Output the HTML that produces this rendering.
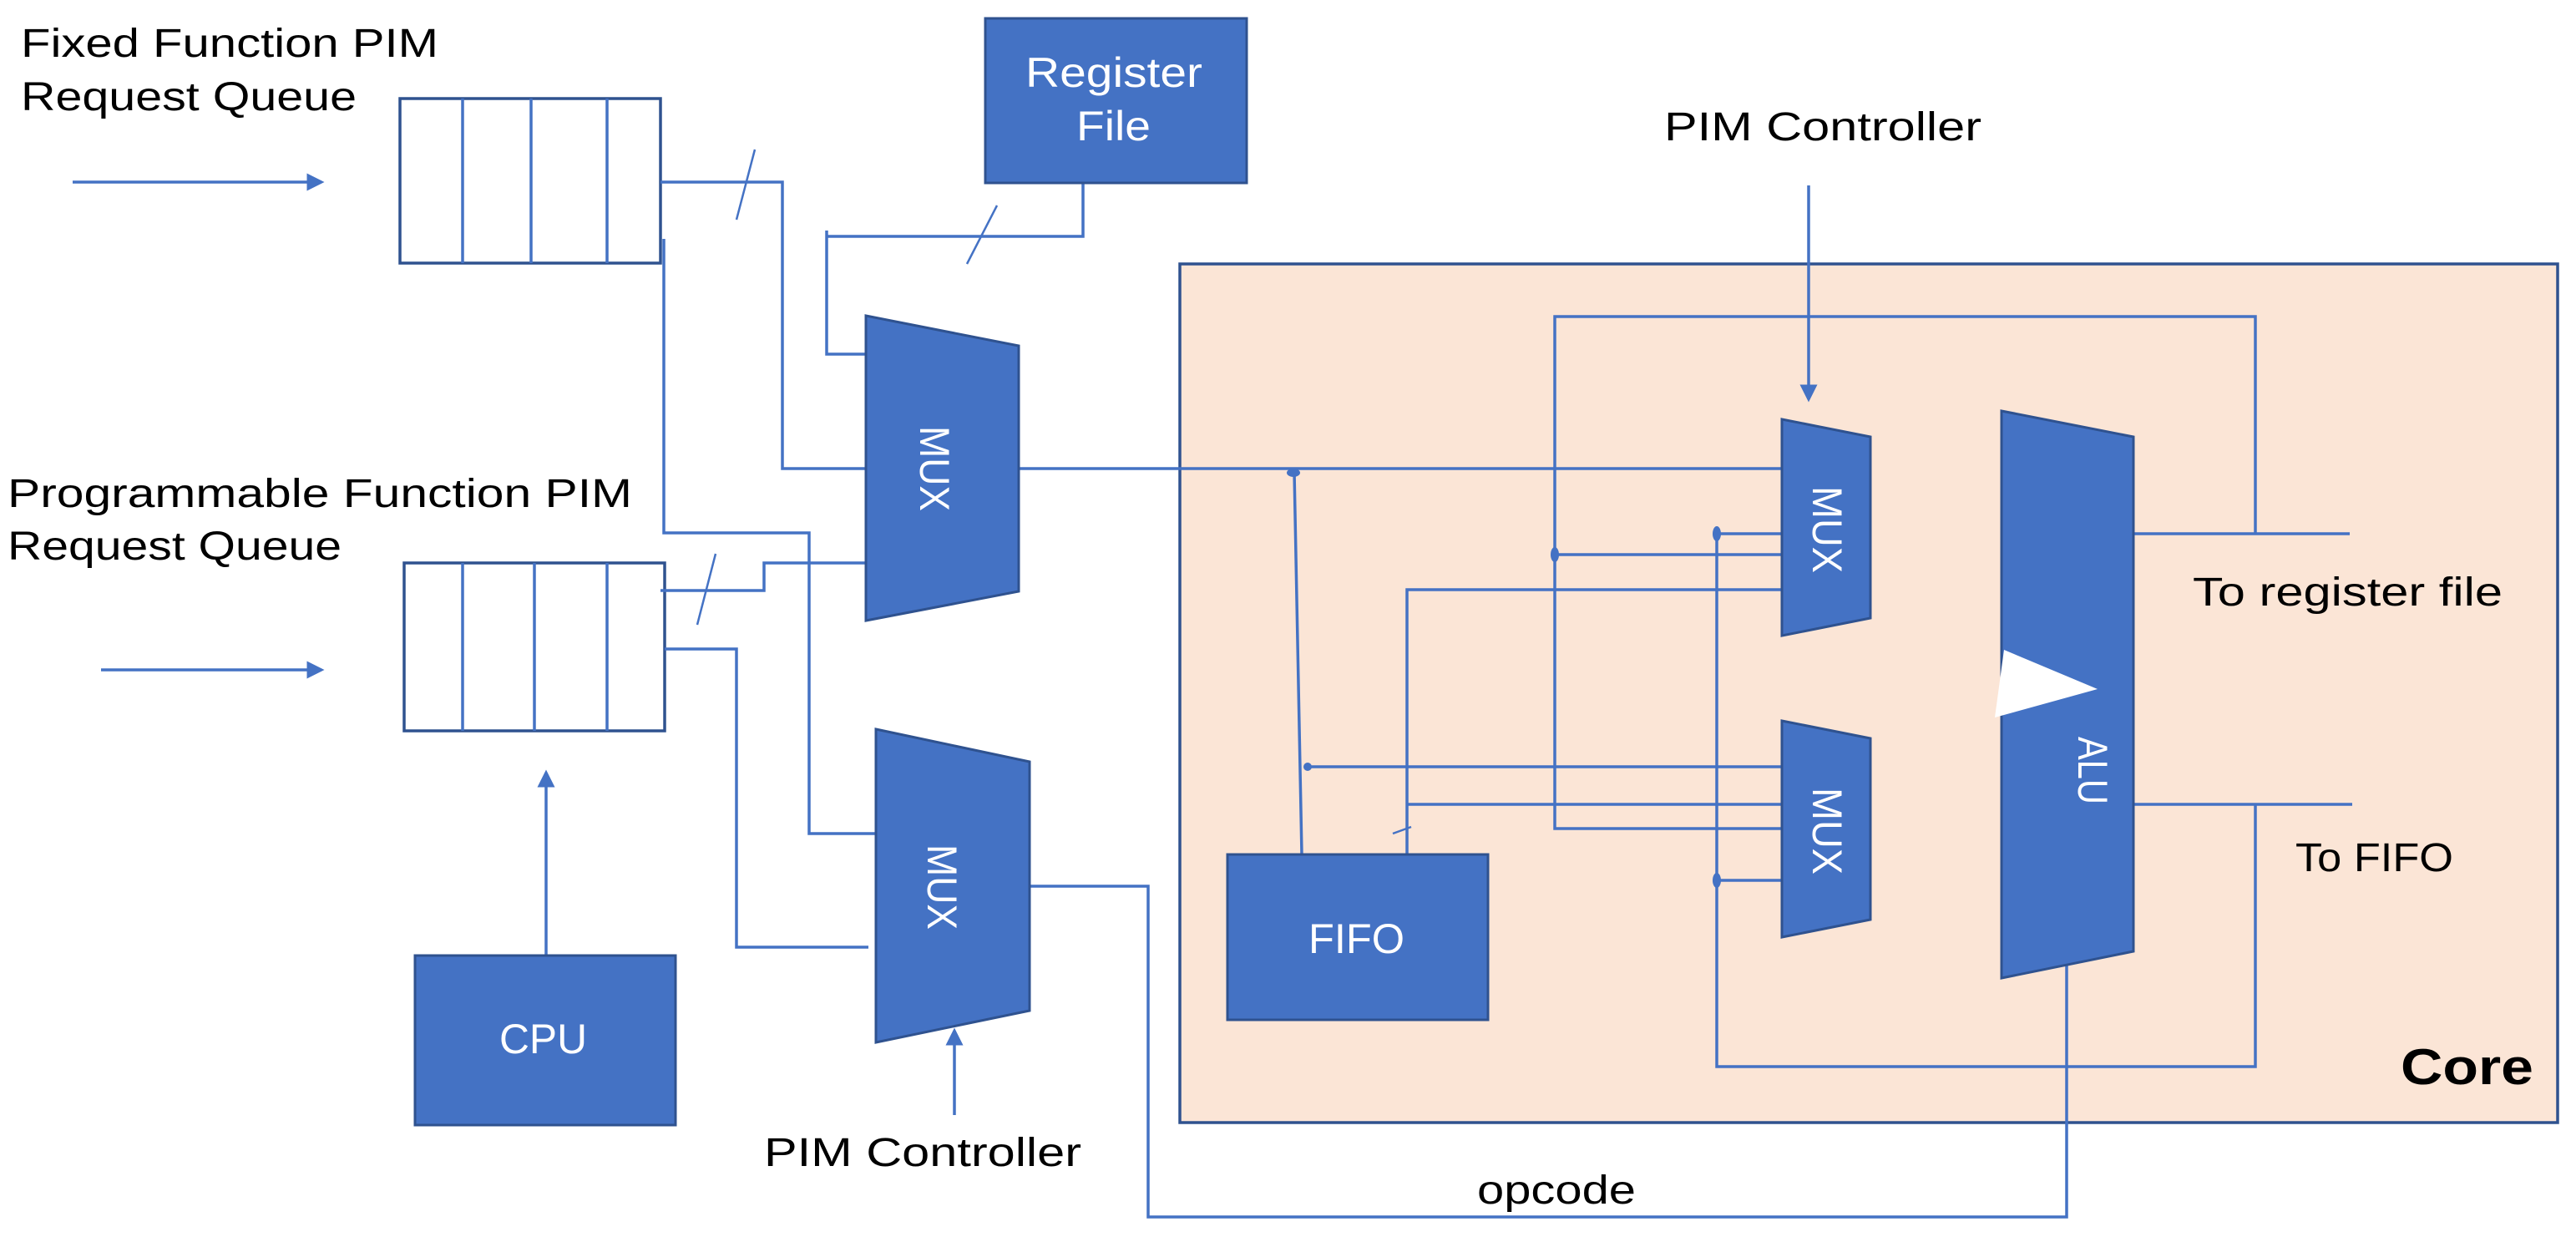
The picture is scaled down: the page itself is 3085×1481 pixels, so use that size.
<!DOCTYPE html>
<html><head><meta charset="utf-8"><style>html,body{margin:0;padding:0;background:#fff}svg{display:block}</style></head>
<body>
<svg width="3085" height="1481" viewBox="0 0 3085 1481" xmlns="http://www.w3.org/2000/svg" font-family="Liberation Sans, sans-serif">
<defs>
<marker id="ar" markerWidth="6" markerHeight="6" refX="5" refY="3" orient="auto" markerUnits="strokeWidth"><path d="M0,0 L6,3 L0,6 z" fill="#4472c4"/></marker>
</defs>
<g fill="none" stroke="#4472c4" stroke-width="3.5">
<rect x="1413" y="316" width="1650" height="1028" fill="#fbe5d6" stroke="#2f528f" stroke-width="3.5"/>
<line x1="87" y1="218" x2="385" y2="218" marker-end="url(#ar)"/>
<line x1="121" y1="802" x2="385" y2="802" marker-end="url(#ar)"/>
<line x1="654" y1="1144" x2="654" y2="925" marker-end="url(#ar)"/>
<line x1="1143" y1="1335" x2="1143" y2="1234" marker-end="url(#ar)"/>
<line x1="2166" y1="222" x2="2166" y2="478" marker-end="url(#ar)"/>
<rect x="479" y="118" width="312" height="197" stroke="#2f528f"/>
<line x1="554" y1="118" x2="554" y2="315"/><line x1="636" y1="118" x2="636" y2="315"/><line x1="727" y1="118" x2="727" y2="315"/>
<rect x="484" y="674" width="312" height="201" stroke="#2f528f"/>
<line x1="554" y1="674" x2="554" y2="875"/><line x1="640" y1="674" x2="640" y2="875"/><line x1="727" y1="674" x2="727" y2="875"/>
<polyline points="791,218 937,218 937,561 1037,561"/>
<line x1="904" y1="179" x2="882" y2="263" stroke-width="2.5"/>
<polyline points="1297,219 1297,283 990,283"/>
<polyline points="990,276 990,424 1037,424"/>
<line x1="1194" y1="246" x2="1158" y2="316" stroke-width="2.5"/>
<polyline points="795,286 795,638 969,638 969,998 1049,998"/>
<polyline points="791,707 915,707 915,674 1037,674"/>
<line x1="857" y1="663" x2="835" y2="748" stroke-width="2.5"/>
<polyline points="796,777 882,777 882,1134 1040,1134"/>
<polyline points="1233,1061 1375,1061 1375,1457 2475,1457 2475,1155"/>
<line x1="1220" y1="561" x2="2134" y2="561"/>
<polyline points="1550,565 1559,1023"/>
<line x1="1564" y1="918" x2="2134" y2="918"/>
<polyline points="2134,992 1862,992 1862,379 2701,379 2701,639"/>
<line x1="2555" y1="639" x2="2814" y2="639"/>
<line x1="1862" y1="664" x2="2134" y2="664"/>
<polyline points="2134,639 2056,639 2056,1277 2701,1277 2701,963"/>
<line x1="2555" y1="963" x2="2817" y2="963"/>
<line x1="2056" y1="1054" x2="2134" y2="1054"/>
<polyline points="1685,1023 1685,706 2134,706"/>
<line x1="1685" y1="963" x2="2134" y2="963"/>
<line x1="1668" y1="998" x2="1690" y2="990" stroke-width="2.5"/>
</g>
<g fill="#4472c4">
<ellipse cx="1549" cy="566" rx="8" ry="5"/>
<circle cx="1566" cy="918" r="5"/>
<ellipse cx="1862" cy="664" rx="5" ry="9"/>
<ellipse cx="2056" cy="639" rx="5" ry="9"/>
<ellipse cx="2056" cy="1054" rx="5" ry="9"/>
</g>
<g fill="#4472c4" stroke="#2f528f" stroke-width="3">
<rect x="1180" y="22" width="313" height="197"/>
<rect x="497" y="1144" width="312" height="203"/>
<rect x="1470" y="1023" width="312" height="198"/>
<polygon points="1037,378 1220,414 1220,708 1037,743"/>
<polygon points="1049,873 1233,912 1233,1210 1049,1248"/>
<polygon points="2134,502 2240,523 2240,740 2134,761"/>
<polygon points="2134,863 2240,884 2240,1101 2134,1122"/>
<polygon points="2397,492 2555,523 2555,1139 2397,1171"/>
</g>
<polygon points="2389,859 2400,778 2512,825" fill="#fff"/>
<g fill="#fff" font-size="50">
<text x="1228" y="104" textLength="212" lengthAdjust="spacingAndGlyphs">Register</text>
<text x="1289" y="168" textLength="89" lengthAdjust="spacingAndGlyphs">File</text>
<text x="598" y="1261" textLength="105" lengthAdjust="spacingAndGlyphs">CPU</text>
<text x="1567" y="1141" textLength="115" lengthAdjust="spacingAndGlyphs">FIFO</text>
<text transform="translate(1102,510) rotate(90)" textLength="102" lengthAdjust="spacingAndGlyphs">MUX</text>
<text transform="translate(1111,1011) rotate(90)" textLength="102" lengthAdjust="spacingAndGlyphs">MUX</text>
<text transform="translate(2171,582) rotate(90)" textLength="104" lengthAdjust="spacingAndGlyphs">MUX</text>
<text transform="translate(2171,943) rotate(90)" textLength="104" lengthAdjust="spacingAndGlyphs">MUX</text>
<text transform="translate(2489,882) rotate(90)" textLength="81" lengthAdjust="spacingAndGlyphs">ALU</text>
</g>
<g fill="#000" font-size="48">
<text x="25" y="68" textLength="500" lengthAdjust="spacingAndGlyphs">Fixed Function PIM</text>
<text x="25" y="132" textLength="402" lengthAdjust="spacingAndGlyphs">Request Queue</text>
<text x="9" y="607" textLength="748" lengthAdjust="spacingAndGlyphs">Programmable Function PIM</text>
<text x="9" y="670" textLength="400" lengthAdjust="spacingAndGlyphs">Request Queue</text>
<text x="915" y="1396" textLength="380" lengthAdjust="spacingAndGlyphs">PIM Controller</text>
<text x="1993" y="168" textLength="380" lengthAdjust="spacingAndGlyphs">PIM Controller</text>
<text x="2626" y="725" textLength="371" lengthAdjust="spacingAndGlyphs">To register file</text>
<text x="2749" y="1043" textLength="189" lengthAdjust="spacingAndGlyphs">To FIFO</text>
<text x="1769" y="1441" textLength="190" lengthAdjust="spacingAndGlyphs">opcode</text>
<text x="2875" y="1298" font-size="60" font-weight="bold" textLength="159" lengthAdjust="spacingAndGlyphs">Core</text>
</g>
</svg>
</body></html>
